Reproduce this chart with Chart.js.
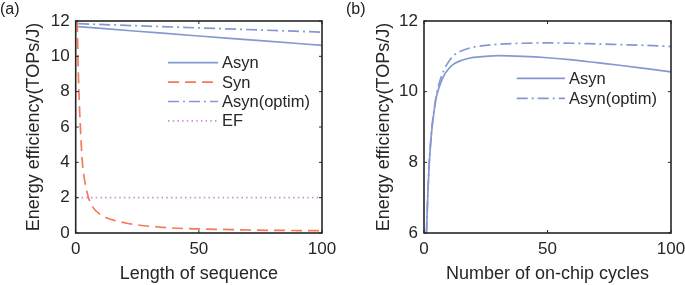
<!DOCTYPE html>
<html><head><meta charset="utf-8">
<script src="https://cdn.jsdelivr.net/npm/chart.js@4/dist/chart.umd.min.js"></script>
<style>
html,body{margin:0;padding:0;background:#fff;width:685px;height:285px;overflow:hidden;}
.panel{position:absolute;top:0;width:340px;height:285px;}
.lbl{position:absolute;font:16px 'Liberation Sans',Arial,sans-serif;color:#222;line-height:18px;}
</style></head><body>
<div class="panel" style="left:0"><canvas id="ca" width="340" height="285"></canvas></div>
<div class="panel" style="left:345px"><canvas id="cb" width="340" height="285"></canvas></div>
<div class="lbl" style="left:0;top:0">(a)</div>
<div class="lbl" style="left:346px;top:0">(b)</div>
<script>
// ---- Panel (a) data ----
const asynAX = [1, 25, 50, 75, 100];
const asynA = [11.68, 11.42, 11.15, 10.89, 10.62];
const optimA = [11.85, 11.73, 11.61, 11.49, 11.37];
const synX = [0.6, 0.9, 1.3, 1.9, 2.7, 3.6, 5.2, 7, 10, 13, 16, 20.7, 25, 30, 41, 50, 60, 70, 80, 90, 100];
const synA = [12, 10, 8, 6, 4, 3, 2, 1.45, 1.05, 0.83, 0.7, 0.55, 0.46, 0.38, 0.27, 0.23, 0.2, 0.17, 0.15, 0.14, 0.13];
const efX = [0.5, 100];
const efA = [2, 2];
const xTicksA = [0, 50, 100];
const yTicksA = [0, 2, 4, 6, 8, 10, 12];
// ---- Panel (b) data ----
const cycX = [1, 1.5, 2, 3, 4, 5, 6, 8, 10, 12, 15, 20, 25, 30, 40, 50, 60, 70, 80, 90, 100];
const asynB = [6.0, 7.0, 7.8, 8.8, 9.4, 9.85, 10.1, 10.45, 10.65, 10.78, 10.88, 10.97, 11.0, 11.02, 11.0, 10.96, 10.9, 10.82, 10.74, 10.65, 10.56];
const optimB = [6.0, 7.0, 7.85, 8.85, 9.45, 9.9, 10.2, 10.6, 10.85, 11.02, 11.15, 11.26, 11.31, 11.34, 11.37, 11.38, 11.37, 11.35, 11.33, 11.31, 11.28];
const xTicksB = [0, 50, 100];
const yTicksB = [6, 8, 10, 12];

const FONT = "'Liberation Sans', Arial, sans-serif";
const BLUE = '#8499d2';
const RED = '#f8785c';
const PURPLE = '#cf8fdc';
const INK = '#262626';

function pts(xs, ys) { return xs.map((v, i) => ({x: v, y: ys[i]})); }

const boxPlugin = {
  id: 'boxTicks',
  afterDatasetsDraw(chart) {
    const {ctx, chartArea: {left, right, top, bottom}, scales: {x, y}} = chart;
    ctx.save();
    ctx.strokeStyle = INK;
    ctx.lineWidth = 1;
    const L = 3;
    x.ticks.forEach(t => {
      const p = x.getPixelForValue(t.value);
      ctx.beginPath();
      ctx.moveTo(p, bottom); ctx.lineTo(p, bottom - L);
      ctx.moveTo(p, top); ctx.lineTo(p, top + L);
      ctx.stroke();
    });
    y.ticks.forEach(t => {
      const p = y.getPixelForValue(t.value);
      ctx.beginPath();
      ctx.moveTo(left, p); ctx.lineTo(left + L, p);
      ctx.moveTo(right, p); ctx.lineTo(right - L, p);
      ctx.stroke();
    });
    ctx.lineWidth = 1.6;
    ctx.strokeRect(left, top, right - left, bottom - top);
    ctx.restore();
  }
};

const legendPlugin = {
  id: 'customLegend',
  afterDraw(chart, args, opts) {
    const {ctx} = chart;
    ctx.save();
    ctx.font = '16.5px ' + FONT;
    ctx.textBaseline = 'middle';
    ctx.fillStyle = INK;
    chart.data.datasets.forEach((ds, i) => {
      const yy = opts.y + i * opts.dy;
      ctx.beginPath();
      ctx.strokeStyle = ds.borderColor;
      ctx.lineWidth = ds.borderWidth;
      ctx.setLineDash(ds.borderDash || []);
      ctx.moveTo(opts.x, yy);
      ctx.lineTo(opts.x + opts.w, yy);
      ctx.stroke();
      ctx.setLineDash([]);
      ctx.fillText(ds.label, opts.x + opts.w + 4, yy + 1);
    });
    ctx.restore();
  }
};

function makeOptions(cfg) {
  return {
    responsive: false,
    animation: false,
    layout: {padding: {left: 0, top: 21, right: cfg.padRight, bottom: 0}},
    plugins: {
      legend: {display: false},
      tooltip: {enabled: false},
      customLegend: cfg.legend
    },
    elements: {point: {radius: 0}},
    scales: {
      x: {
        type: 'linear', min: 0, max: 100,
        afterBuildTicks: s => { s.ticks = cfg.xTicks.map(v => ({value: v})); },
        afterFit: s => { s.height = 52; s.paddingLeft = 0; s.paddingRight = 0; },
        grid: {display: false, drawTicks: false},
        border: {display: false},
        ticks: {padding: 6, color: INK, font: {family: FONT, size: 17}},
        title: {display: true, text: cfg.xTitle, color: INK, font: {family: FONT, size: 18}, padding: {top: 0, bottom: 0}}
      },
      y: {
        type: 'linear', min: cfg.yMin, max: cfg.yMax,
        afterBuildTicks: s => { s.ticks = cfg.yTicks.map(v => ({value: v})); },
        afterFit: s => { s.width = cfg.yWidth; s.paddingTop = 0; s.paddingBottom = 0; },
        grid: {display: false, drawTicks: false},
        border: {display: false},
        ticks: {padding: 6, color: INK, font: {family: FONT, size: 17}},
        title: {display: true, text: 'Energy efficiency(TOPs/J)', color: INK, font: {family: FONT, size: 18}, padding: {top: cfg.yTitlePad, bottom: 0}}
      }
    }
  };
}

function line(label, data, color, dash, width) {
  return {label, data, borderColor: color, backgroundColor: color, borderWidth: width || 1.7,
    borderDash: dash, showLine: true, pointRadius: 0, cubicInterpolationMode: 'monotone', fill: false};
}

new Chart(document.getElementById('ca'), {
  type: 'scatter',
  data: {datasets: [
    line('Asyn', pts(asynAX, asynA), BLUE, []),
    line('Syn', pts(synX, synA), RED, [11, 6]),
    line('Asyn(optim)', pts(asynAX, optimA), BLUE, [11, 4, 2, 4]),
    line('EF', pts(efX, efA), PURPLE, [1.5, 3.2])
  ]},
  options: makeOptions({padRight: 18, xTicks: xTicksA, yTicks: yTicksA, yMin: 0, yMax: 12, yWidth: 75.7,
    yTitlePad: 23.2, xTitle: 'Length of sequence', legend: {x: 168, y: 62.7, dy: 19.4, w: 50}}),
  plugins: [boxPlugin, legendPlugin]
});

new Chart(document.getElementById('cb'), {
  type: 'scatter',
  data: {datasets: [
    line('Asyn', pts(cycX, asynB), BLUE, []),
    line('Asyn(optim)', pts(cycX, optimB), BLUE, [11, 4, 2, 4])
  ]},
  options: makeOptions({padRight: 14, xTicks: xTicksB, yTicks: yTicksB, yMin: 6, yMax: 12, yWidth: 79,
    yTitlePad: 28.2, xTitle: 'Number of on-chip cycles', legend: {x: 171.7, y: 78.3, dy: 20, w: 48.3}}),
  plugins: [boxPlugin, legendPlugin]
});
</script>
</body></html>
